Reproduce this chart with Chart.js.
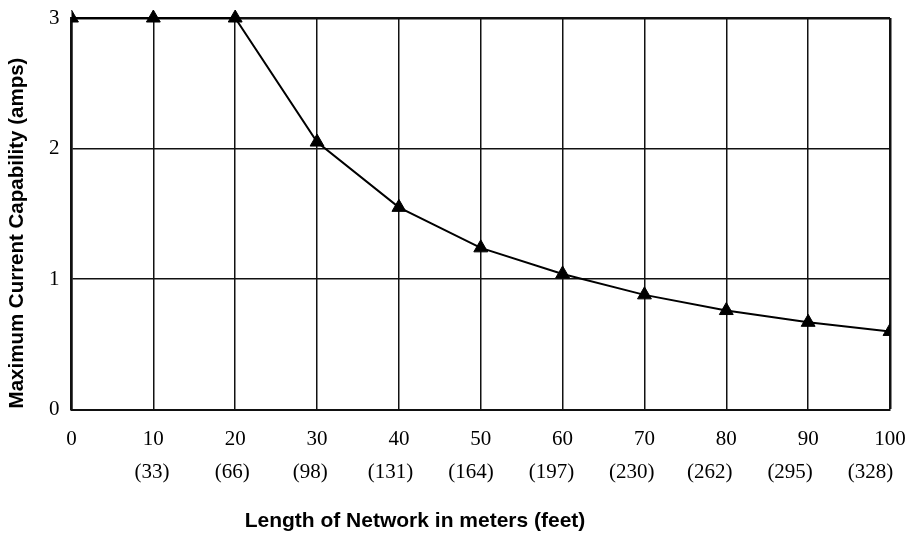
<!DOCTYPE html>
<html>
<head>
<meta charset="utf-8">
<script src="https://cdn.jsdelivr.net/npm/chart.js@4.4.1/dist/chart.umd.min.js"></script>
<style>
  html, body { margin: 0; padding: 0; background: #fff; }
  #wrap { width: 912px; height: 536px; position: relative; }
</style>
</head>
<body>
<div id="wrap"><canvas id="current-chart" width="912" height="536"></canvas></div>
<script>
// Length of network (meters) and its equivalent in feet
const meters = [0, 10, 20, 30, 40, 50, 60, 70, 80, 90, 100];
const feet = [33, 66, 98, 131, 164, 197, 230, 262, 295, 328];
// Maximum current capability (amps)
const amps = [3, 3, 3, 2.05, 1.55, 1.24, 1.04, 0.88, 0.76, 0.67, 0.6];
const yTicks = [0, 1, 2, 3];

const xTitle = 'Length of Network in meters (feet)';
const yTitle = 'Maximum Current Capability (amps)';

const serif = '"Liberation Serif", "Times New Roman", serif';

// draw the axis titles off-centre, as in the scanned figure
const axisTitles = {
    id: 'axisTitles',
    afterDraw(chart) {
        const ctx = chart.ctx;
        const area = chart.chartArea;
        ctx.save();
        ctx.fillStyle = '#000';
        ctx.textAlign = 'center';
        ctx.textBaseline = 'middle';
        ctx.font = 'bold 21px "Liberation Sans", Arial, sans-serif';
        ctx.fillText(xTitle, 415, 521);
        ctx.font = 'bold 20.5px "Liberation Sans", Arial, sans-serif';
        ctx.translate(17, area.top + 215);
        ctx.rotate(-Math.PI / 2);
        ctx.fillText(yTitle, 0, 0);
        ctx.restore();
    }
};

// let the layout padding alone decide the plot edges
const noSidePadding = axis => { axis.paddingLeft = 0; axis.paddingRight = 0; };
const noEndPadding = axis => { axis.paddingTop = 0; axis.paddingBottom = 0; };

const ctx = document.getElementById('current-chart').getContext('2d');
new Chart(ctx, {
    type: 'line',
    data: {
        datasets: [{
            data: meters.map((m, i) => ({ x: m, y: amps[i] })),
            borderColor: '#000',
            borderWidth: 2,
            tension: 0,
            pointStyle: 'triangle',
            pointRadius: 8,
            pointBackgroundColor: '#000',
            pointBorderColor: '#000',
            pointBorderWidth: 1,
            clip: { left: 0, right: 0, top: 10, bottom: 10 }
        }]
    },
    options: {
        responsive: false,
        animation: false,
        events: [],
        layout: { padding: { left: 37, right: 22, top: 18, bottom: 45 } },
        plugins: {
            legend: { display: false },
            tooltip: { enabled: false }
        },
        scales: {
            x: {
                type: 'linear',
                min: 0,
                max: 100,
                afterBuildTicks: axis => {
                    axis.ticks = meters.map(v => ({ value: v }));
                },
                afterFit: axis => {
                    noSidePadding(axis);
                    // keep the feet row close under the meters row
                    axis.height = 44;
                },
                ticks: {
                    color: '#000',
                    maxRotation: 0,
                    autoSkip: false,
                    padding: 17,
                    font: { family: serif, size: 21 }
                },
                grid: {
                    color: '#111',
                    lineWidth: ctx => ctx.tick && ctx.tick.value === 100 ? 2.5 : 1.5,
                    drawTicks: false
                },
                border: { color: '#111', width: 2 }
            },
            // second row of labels: the same lengths in feet
            feet: {
                type: 'linear',
                position: 'bottom',
                min: 0,
                max: 336,
                afterBuildTicks: axis => {
                    axis.ticks = feet.map(v => ({ value: v }));
                },
                afterFit: noSidePadding,
                ticks: {
                    color: '#000',
                    maxRotation: 0,
                    autoSkip: false,
                    padding: 6,
                    font: { family: serif, size: 21 },
                    callback: v => '(' + v + ')'
                },
                grid: { display: false, drawTicks: false },
                border: { display: false }
            },
            y: {
                min: 0,
                max: 3,
                afterBuildTicks: axis => {
                    axis.ticks = yTicks.map(v => ({ value: v }));
                },
                afterFit: noEndPadding,
                ticks: {
                    color: '#000',
                    padding: 12,
                    font: { family: serif, size: 21 }
                },
                grid: {
                    color: '#111',
                    lineWidth: ctx => ctx.tick && ctx.tick.value === 3 ? 2.5 : 1.5,
                    drawTicks: false
                },
                border: { color: '#111', width: 2.5 }
            }
        }
    },
    plugins: [axisTitles]
});
</script>
</body>
</html>
